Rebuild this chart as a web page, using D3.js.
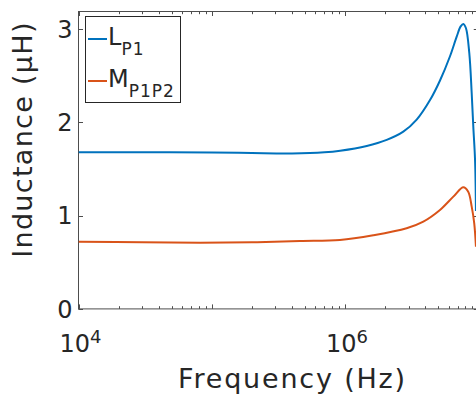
<!DOCTYPE html>
<html><head><meta charset="utf-8">
<script src="https://cdn.jsdelivr.net/npm/d3@7"></script>
<style>html,body{margin:0;padding:0;background:#fff;overflow:hidden}svg{display:block}</style>
</head><body>
<svg id="c" width="476" height="397"></svg>
<script>
// Data
const freqL = [1e4, 3e4, 1e5, 2e5, 4e5, 7e5, 9.2e5, 1.456e6, 2.056e6, 2.738e6, 3.451e6, 4.345e6, 5.164e6, 6.138e6, 6.889e6, 7.38e6, 7.73e6, 8.09e6, 8.57e6, 8.93e6, 9.18e6, 9.46e6, 9.61e6];
const valL  = [1.68, 1.68, 1.678, 1.672, 1.668, 1.68, 1.697, 1.748, 1.813, 1.901, 2.03, 2.24, 2.45, 2.71, 2.92, 3.03, 3.057, 3.01, 2.74, 2.313, 1.955, 1.6, 1.05];
const freqM = [1e4, 3e4, 8.17e4, 2e5, 4.59e5, 9.16e5, 1.63e6, 2.90e6, 3.87e6, 5.16e6, 6.50e6, 7.73e6, 8.41e6, 8.93e6, 9.33e6, 9.61e6];
const valM  = [0.72, 0.715, 0.71, 0.715, 0.728, 0.739, 0.79, 0.865, 0.936, 1.061, 1.204, 1.305, 1.257, 1.097, 0.918, 0.667];
const yTicks = [0, 1, 2, 3];
const xLabelExps = [4, 6];
const xDomain = [1e4, 1e7];
const yDomain = [0, 3.19];

const FONT = "DejaVu Sans";
const TXT = "#262626";
const AX = "#4d4d4d";
const svg = d3.select("#c");
const L = 78.5, R = 478.25, T = 11.5, B = 308.9;
const x = d3.scaleLog().domain(xDomain).range([L, R]);
const y = d3.scaleLinear().domain(yDomain).range([B, T]);

svg.append("defs").append("clipPath").attr("id","clip")
  .append("rect").attr("x",L).attr("y",T).attr("width",R-L).attr("height",B-T);

// ticks
const allX = [];
for (let e = 4; e < 7; e++) for (let m = 1; m < 10; m++) allX.push(m * Math.pow(10, e));
allX.push(1e7);
const g = svg.append("g");
allX.forEach(v => {
  const major = Math.abs(Math.log10(v) - Math.round(Math.log10(v))) < 1e-9;
  const len = major ? 4.5 : 2.7;
  const px = Math.round(x(v)) + 0.5;
  g.append("line").attr("x1",px).attr("x2",px).attr("y1",B).attr("y2",B-len).attr("stroke",AX).attr("stroke-width",1);
  g.append("line").attr("x1",px).attr("x2",px).attr("y1",T).attr("y2",T+len).attr("stroke",AX).attr("stroke-width",1);
});
yTicks.forEach(v => {
  const py = Math.round(y(v)) + 0.5;
  g.append("line").attr("x1",L).attr("x2",L+4.5).attr("y1",py).attr("y2",py).attr("stroke",AX);
  g.append("line").attr("x1",R).attr("x2",R-4.5).attr("y1",py).attr("y2",py).attr("stroke",AX);
  g.append("text").attr("x",L-6).attr("y",y(v)).attr("dy","0.36em")
    .attr("text-anchor","end").attr("font-family",FONT).attr("font-size",24).attr("fill",TXT).text(v);
});
// box
svg.append("rect").attr("x",L).attr("y",T).attr("width",R-L).attr("height",B-T)
  .attr("fill","none").attr("stroke",AX).attr("stroke-width",1);

// x tick labels
xLabelExps.forEach(e => {
  const t = svg.append("text").attr("x", x(Math.pow(10,e)) + 2).attr("y", 351.5)
    .attr("text-anchor","middle").attr("font-family",FONT).attr("font-size",24).attr("fill",TXT);
  t.append("tspan").text("10");
  t.append("tspan").attr("font-size",18).attr("dy",-9).text(e);
});

// lines
const line = d3.line().x(d => x(d[0])).y(d => y(d[1])).curve(d3.curveCatmullRom.alpha(0.5));
const lg = svg.append("g").attr("clip-path","url(#clip)");
lg.append("path").datum(freqL.map((f,i)=>[f,valL[i]])).attr("d",line)
  .attr("fill","none").attr("stroke","#0072BD").attr("stroke-width",2);
lg.append("path").datum(freqM.map((f,i)=>[f,valM[i]])).attr("d",line)
  .attr("fill","none").attr("stroke","#D95319").attr("stroke-width",2);

// axis titles
svg.append("text").attr("x",292.5).attr("y",388).attr("text-anchor","middle")
  .attr("font-family",FONT).attr("font-size",27).attr("letter-spacing",1.8).attr("fill",TXT).text("Frequency (Hz)");
svg.append("text").attr("transform","translate(31.5,139.5) rotate(-90)").attr("text-anchor","middle")
  .attr("font-family",FONT).attr("font-size",27).attr("letter-spacing",1.3).attr("fill",TXT).text("Inductance (μH)");

// legend
const leg = svg.append("g");
leg.append("rect").attr("x",85.5).attr("y",16.5).attr("width",95).attr("height",86)
  .attr("fill","#fff").attr("stroke",TXT).attr("stroke-width",1);
const items = [{c:"#0072BD", m:"L", s:"P1", y:39}, {c:"#D95319", m:"M", s:"P1P2", y:81}];
items.forEach(it => {
  leg.append("line").attr("x1",88).attr("x2",107).attr("y1",it.y).attr("y2",it.y)
    .attr("stroke",it.c).attr("stroke-width",2);
  const t = leg.append("text").attr("x",108).attr("y",it.y+6).attr("font-family",FONT)
    .attr("font-size",24).attr("fill",TXT);
  t.append("tspan").text(it.m);
  t.append("tspan").attr("font-size",17).attr("dy",10).attr("letter-spacing",1).text(it.s);
});
</script>
</body></html>
